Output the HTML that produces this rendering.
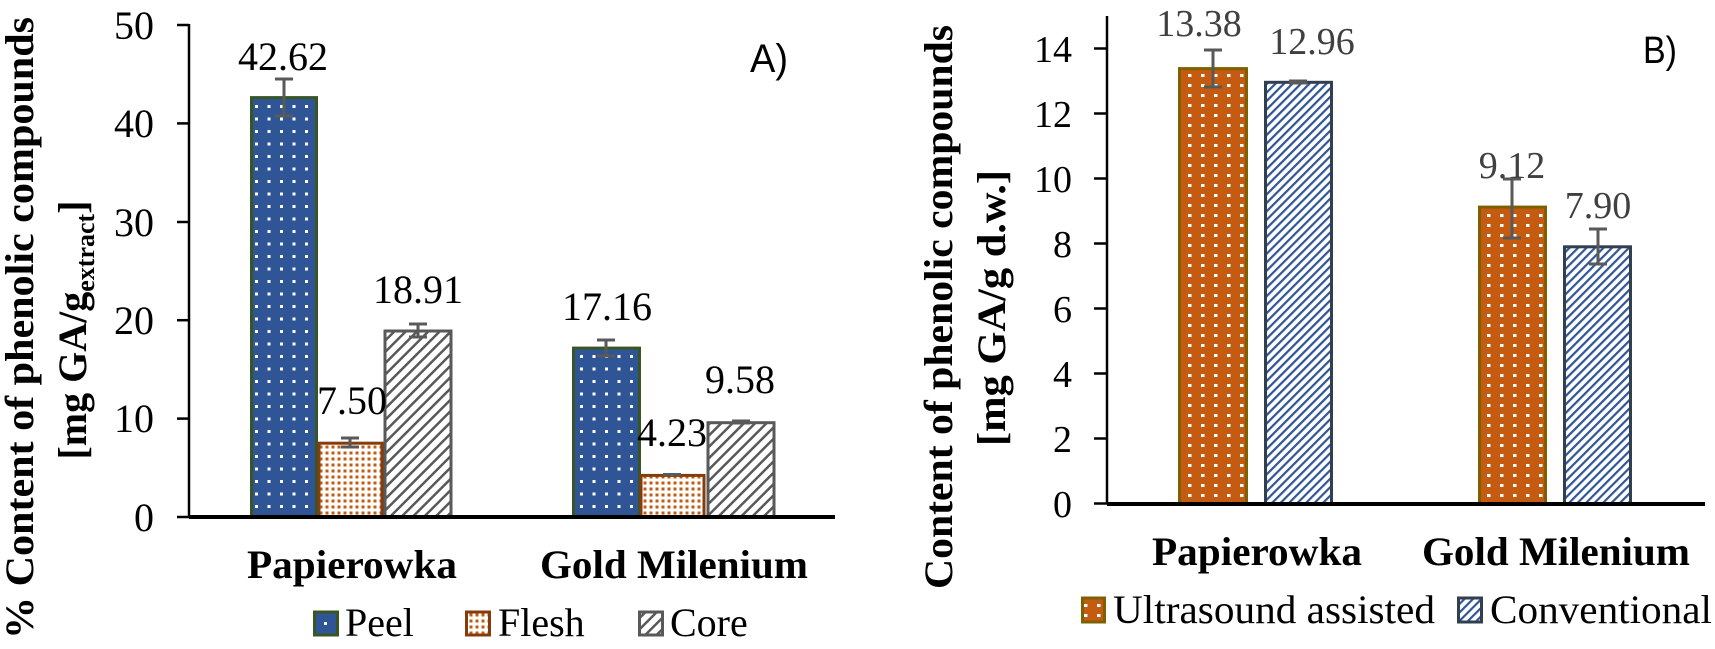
<!DOCTYPE html>
<html><head><meta charset="utf-8"><style>
html,body{margin:0;padding:0;background:#fff;}
svg{display:block;}
text{font-family:"Liberation Serif",serif;}
</style></head><body>
<svg width="1715" height="649" viewBox="0 0 1715 649" xmlns="http://www.w3.org/2000/svg">
<defs>
<pattern id="pPeel" width="12.5" height="12.5" patternUnits="userSpaceOnUse">
<rect width="12.5" height="12.5" fill="#2F5597"/><rect x="5" y="5" width="3" height="3" fill="#fff"/></pattern>
<pattern id="pFlesh" width="6" height="6" patternUnits="userSpaceOnUse">
<rect width="6" height="6" fill="#fff"/><rect x="1.5" y="1.5" width="3" height="3" fill="#C55A11"/></pattern>
<pattern id="pCore" width="8" height="8" patternUnits="userSpaceOnUse" patternTransform="rotate(45)">
<rect width="8" height="8" fill="#fff"/><rect x="0" y="0" width="2.5" height="8" fill="#595959"/></pattern>
<pattern id="pUltra" width="13" height="10" patternUnits="userSpaceOnUse">
<rect width="13" height="10" fill="#C55A11"/><rect x="5" y="4" width="3.5" height="3" fill="#fff"/></pattern>
<pattern id="pConv" width="6" height="6" patternUnits="userSpaceOnUse" patternTransform="rotate(45)">
<rect width="6" height="6" fill="#fff"/><rect x="0" y="0" width="2.2" height="6" fill="#2F5597"/></pattern>
</defs>

<!-- LEFT CHART -->
<g stroke="#000" stroke-width="2.5">
<line x1="189" y1="24" x2="189" y2="517"/>
<line x1="177" y1="25" x2="189" y2="25"/>
<line x1="177" y1="123.4" x2="189" y2="123.4"/>
<line x1="177" y1="222" x2="189" y2="222"/>
<line x1="177" y1="320.2" x2="189" y2="320.2"/>
<line x1="177" y1="418.6" x2="189" y2="418.6"/>
<line x1="177" y1="517" x2="189" y2="517"/>
</g>
<g font-size="40" text-anchor="end" fill="#000">
<text x="154" y="39">50</text><text x="154" y="137">40</text><text x="154" y="236">30</text>
<text x="154" y="334">20</text><text x="154" y="432">10</text><text x="154" y="531">0</text>
</g>
<rect x="251.5" y="97.6" width="65" height="419.4" fill="url(#pPeel)" stroke="#375623" stroke-width="3"/>
<rect x="319" y="443.2" width="63" height="73.8" fill="url(#pFlesh)" stroke="#843C0C" stroke-width="3"/>
<rect x="385" y="331" width="66" height="186" fill="url(#pCore)" stroke="#595959" stroke-width="3"/>
<rect x="573.5" y="348.1" width="66" height="168.9" fill="url(#pPeel)" stroke="#375623" stroke-width="3"/>
<rect x="641" y="475.4" width="63" height="41.6" fill="url(#pFlesh)" stroke="#843C0C" stroke-width="3"/>
<rect x="708" y="422.7" width="66" height="94.3" fill="url(#pCore)" stroke="#595959" stroke-width="3"/>
<line x1="189" y1="517" x2="835" y2="517" stroke="#000" stroke-width="4"/>
<g stroke="#595959" stroke-width="3">
<path d="M284 79V116M275 79H293M275 116H293"/>
<path d="M350 438V447M341 438H359M341 447H359"/>
<path d="M418 324V337M409 324H427M409 337H427"/>
<path d="M606 340V356M597 340H615M597 356H615"/>
<path d="M672 473V476M663 474.5H681"/>
<path d="M741 420V424M732 421H750M732 423H750"/>
</g>
<g font-size="40" text-anchor="middle" fill="#000">
<text x="283" y="70">42.62</text>
<text x="352" y="414">7.50</text>
<text x="418" y="303">18.91</text>
<text x="607" y="320">17.16</text>
<text x="672" y="446">4.23</text>
<text x="740" y="393">9.58</text>
</g>
<g font-size="40" font-weight="bold" text-anchor="middle">
<text x="352" y="578" textLength="210" lengthAdjust="spacingAndGlyphs">Papierowka</text>
<text x="674" y="578" textLength="268" lengthAdjust="spacingAndGlyphs">Gold Milenium</text>
</g>
<text x="750" y="72" style="font-family:'Liberation Sans',sans-serif" font-size="40" textLength="38" lengthAdjust="spacingAndGlyphs">A)</text>
<rect x="314.5" y="612" width="23" height="23" fill="#2F5597" stroke="#375623" stroke-width="3"/><rect x="324" y="622" width="3" height="3" fill="#fff"/>
<text x="345" y="636" font-size="40">Peel</text>
<rect x="466.5" y="612" width="23" height="23" fill="url(#pFlesh)" stroke="#843C0C" stroke-width="3"/>
<text x="498" y="636" font-size="40">Flesh</text>
<rect x="639.5" y="612" width="23" height="23" fill="url(#pCore)" stroke="#595959" stroke-width="3"/>
<text x="670" y="636" font-size="40">Core</text>
<text transform="translate(33,328) rotate(-90)" font-size="40" font-weight="bold" text-anchor="middle" textLength="622" lengthAdjust="spacingAndGlyphs">% Content of phenolic compounds</text>
<text transform="translate(86,330) rotate(-90)" font-size="40" font-weight="bold" text-anchor="middle">[mg  GA/g<tspan font-size="26" dy="8">extract</tspan><tspan dy="-8">]</tspan></text>

<!-- RIGHT CHART -->
<g stroke="#000" stroke-width="2.5">
<line x1="1107" y1="16" x2="1107" y2="503.5"/>
<line x1="1094" y1="48.5" x2="1107" y2="48.5"/>
<line x1="1094" y1="113.5" x2="1107" y2="113.5"/>
<line x1="1094" y1="178.5" x2="1107" y2="178.5"/>
<line x1="1094" y1="243.5" x2="1107" y2="243.5"/>
<line x1="1094" y1="308.5" x2="1107" y2="308.5"/>
<line x1="1094" y1="373.5" x2="1107" y2="373.5"/>
<line x1="1094" y1="438.5" x2="1107" y2="438.5"/>
<line x1="1094" y1="503.5" x2="1107" y2="503.5"/>
</g>
<g font-size="38" text-anchor="end" fill="#000">
<text x="1072" y="62">14</text><text x="1072" y="127">12</text><text x="1072" y="192">10</text>
<text x="1072" y="257">8</text><text x="1072" y="322">6</text><text x="1072" y="387">4</text>
<text x="1072" y="452">2</text><text x="1072" y="517">0</text>
</g>
<rect x="1179.5" y="68.6" width="67" height="434.9" fill="url(#pUltra)" stroke="#7F6000" stroke-width="3"/>
<rect x="1265.5" y="82.3" width="66" height="421.2" fill="url(#pConv)" stroke="#323F4F" stroke-width="3"/>
<rect x="1479.5" y="207.1" width="66" height="296.4" fill="url(#pUltra)" stroke="#7F6000" stroke-width="3"/>
<rect x="1564.5" y="246.8" width="66" height="256.7" fill="url(#pConv)" stroke="#323F4F" stroke-width="3"/>
<line x1="1107" y1="504" x2="1705" y2="504" stroke="#000" stroke-width="4"/>
<g stroke="#595959" stroke-width="3">
<path d="M1213 50V87M1204 50H1222M1204 87H1222"/>
<path d="M1298 80V84M1289 81H1307M1289 83H1307"/>
<path d="M1512 179V238M1503 179H1521M1503 238H1521"/>
<path d="M1598 229V264M1589 229H1607M1589 264H1607"/>
</g>
<g font-size="38" text-anchor="middle" fill="#404040">
<text x="1199" y="36">13.38</text>
<text x="1312" y="54">12.96</text>
<text x="1512" y="178">9.12</text>
<text x="1598" y="218">7.90</text>
</g>
<g font-size="40" font-weight="bold" text-anchor="middle">
<text x="1257" y="565" textLength="210" lengthAdjust="spacingAndGlyphs">Papierowka</text>
<text x="1556" y="565" textLength="268" lengthAdjust="spacingAndGlyphs">Gold Milenium</text>
</g>
<text x="1643" y="63" style="font-family:'Liberation Sans',sans-serif" font-size="38" textLength="34" lengthAdjust="spacingAndGlyphs">B)</text>
<rect x="1082.5" y="598" width="22" height="24" fill="url(#pUltra)" stroke="#7F6000" stroke-width="3"/>
<text x="1113" y="623" font-size="40" textLength="322" lengthAdjust="spacingAndGlyphs">Ultrasound assisted</text>
<rect x="1458.5" y="598" width="23" height="24" fill="url(#pConv)" stroke="#323F4F" stroke-width="3"/>
<text x="1490" y="623" font-size="40" textLength="222" lengthAdjust="spacingAndGlyphs">Conventional</text>
<text transform="translate(952,307) rotate(-90)" font-size="40" font-weight="bold" text-anchor="middle" textLength="564" lengthAdjust="spacingAndGlyphs">Content of phenolic compounds</text>
<text transform="translate(1005,308) rotate(-90)" font-size="40" font-weight="bold" text-anchor="middle" textLength="276" lengthAdjust="spacingAndGlyphs">[mg  GA/g d.w.]</text>
</svg>
</body></html>
